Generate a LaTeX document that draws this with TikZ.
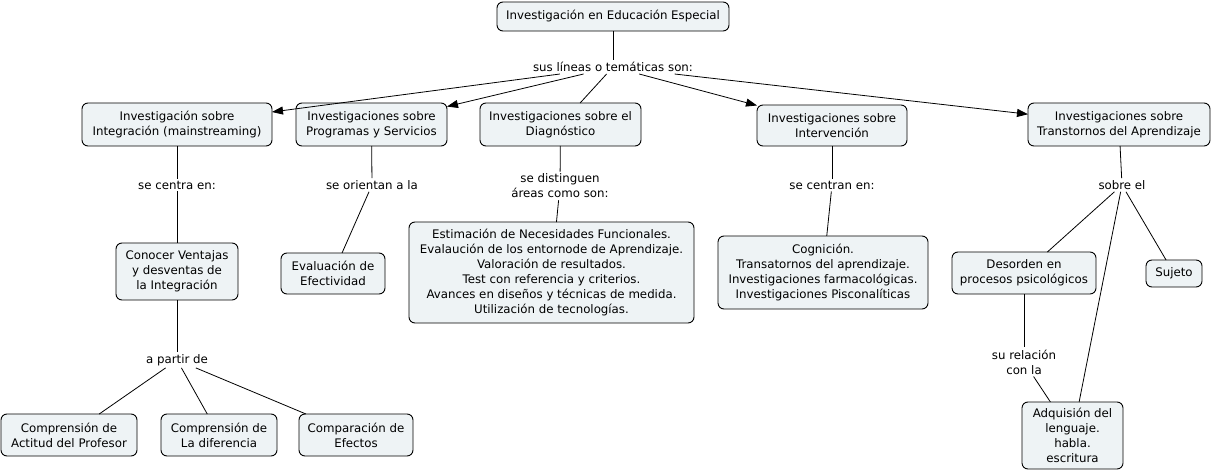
\documentclass[tikz,border=0pt]{standalone}
\usepackage{fontspec}
\setmainfont{DejaVu Sans}
\usetikzlibrary{arrows.meta}
\definecolor{boxfill}{RGB}{238,243,245}
\begin{document}
\begin{tikzpicture}[x=1pt,y=-1pt,
  font=\fontsize{11.8}{15}\selectfont,
  box/.style={draw=black,line width=0.9pt,fill=boxfill,rounded corners=6pt,align=center,inner sep=2pt,outer sep=0pt},
  lbl/.style={align=center,inner sep=2pt,fill=white},
  conn/.style={line width=0.8pt},
  arr/.style={line width=0.8pt,-{Triangle[length=11pt,width=8pt]}}]
\useasboundingbox (0,0) rectangle (1216,473);
% boxes
\node[box,minimum width=232pt,minimum height=29pt] (top) at (613,16.5) {Investigación en Educación Especial};
\node[box,minimum width=190pt,minimum height=43pt] (integ) at (177,124.5) {Investigación sobre\\Integración (mainstreaming)};
\node[box,minimum width=151pt,minimum height=43pt] (prog) at (371.5,124.5) {Investigaciones sobre\\Programas y Servicios};
\node[box,minimum width=161pt,minimum height=43pt] (diag) at (560.5,124.5) {Investigaciones sobre el\\Diagnóstico};
\node[box,minimum width=150pt,minimum height=41pt] (interv) at (832,125.5) {Investigaciones sobre\\Intervención};
\node[box,minimum width=182pt,minimum height=43pt] (trans) at (1119,124.5) {Investigaciones sobre\\Transtornos del Aprendizaje};
\node[box,minimum width=122pt,minimum height=57pt] (conocer) at (177,271.5) {Conocer Ventajas\\y desventas de\\la Integración};
\node[box,minimum width=104pt,minimum height=41pt] (eval) at (333,273.5) {Evaluación de\\Efectividad};
\node[box,minimum width=285pt,minimum height=101pt] (diaglist) at (551.5,272.5) {Estimación de Necesidades Funcionales.\\Evalaución de los entornode de Aprendizaje.\\Valoración de resultados.\\Test con referencia y criterios.\\Avances en diseños y técnicas de medida.\\Utilización de tecnologías.};
\node[box,minimum width=210pt,minimum height=73pt] (intlist) at (823,272.5) {Cognición.\\Transatornos del aprendizaje.\\Investigaciones farmacológicas.\\Investigaciones Pisconalíticas};
\node[box,minimum width=144pt,minimum height=42pt] (desorden) at (1024,273) {Desorden en\\procesos psicológicos};
\node[box,minimum width=56pt,minimum height=27pt] (sujeto) at (1174,273.5) {Sujeto};
\node[box,minimum width=136pt,minimum height=42pt] (comp1) at (69,435) {Comprensión de\\Actitud del Profesor};
\node[box,minimum width=116pt,minimum height=42pt] (comp2) at (219,435) {Comprensión de\\La diferencia};
\node[box,minimum width=114pt,minimum height=42pt] (comp3) at (356,435) {Comparación de\\Efectos};
\node[box,minimum width=101pt,minimum height=67pt] (adq) at (1072.5,435.5) {Adquisión del\\lenguaje.\\habla.\\escritura};
% labels
\node[lbl] (sus) at (613,67) {sus líneas o temáticas son:};
\node[lbl] (secentra) at (177,185) {se centra en:};
\node[lbl] (seorientan) at (372,185) {se orientan a la};
\node[lbl] (sedist) at (560,186) {se distinguen\\áreas como son:};
\node[lbl] (secentran) at (832,185) {se centran en:};
\node[lbl] (sobreel) at (1122,185) {sobre el};
\node[lbl] (apartir) at (177,360) {a partir de};
\node[lbl] (surel) at (1024,362) {su relación\\con la};
% connectors
\draw[conn] (top) -- (sus);
\draw[arr] (sus) -- (integ);
\draw[arr] (sus) -- (prog);
\draw[conn] (sus) -- (diag);
\draw[arr] (sus) -- (interv);
\draw[arr] (sus) -- (trans);
\draw[conn] (integ) -- (secentra);
\draw[conn] (secentra) -- (conocer);
\draw[conn] (conocer) -- (apartir);
\draw[conn] (apartir) -- (comp1);
\draw[conn] (apartir) -- (comp2);
\draw[conn] (apartir) -- (comp3);
\draw[conn] (prog) -- (seorientan);
\draw[conn] (seorientan) -- (eval);
\draw[conn] (diag) -- (sedist);
\draw[conn] (sedist) -- (diaglist);
\draw[conn] (interv) -- (secentran);
\draw[conn] (secentran) -- (intlist);
\draw[conn] (trans) -- (sobreel);
\draw[conn] (sobreel) -- (desorden);
\draw[conn] (sobreel) -- (sujeto);
\draw[conn] (sobreel) -- (adq);
\draw[conn] (desorden) -- (surel);
\draw[conn] (surel) -- (adq);
\end{tikzpicture}
\end{document}
